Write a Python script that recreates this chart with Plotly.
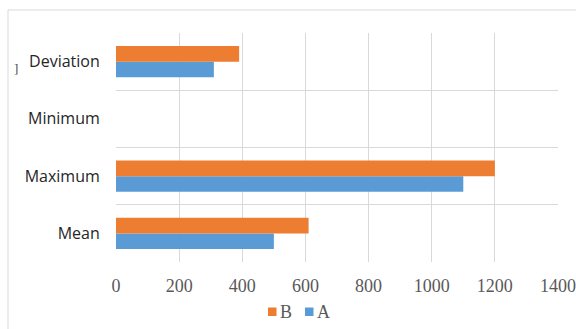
import plotly.graph_objects as go

# Summary statistics for the two series
categories = ["Mean", "Maximum", "Minimum", "Deviation"]
series_a = [500, 1100, 0, 310]
series_b = [610, 1200, 0, 390]
x_ticks = [0, 200, 400, 600, 800, 1000, 1200, 1400]

COLOR_A = "#5B9BD5"
COLOR_B = "#ED7D31"

W, H = 576, 329
L, R, T, B = 116, 558, 33, 262  # plot area in pixels


def px(x):
    return (x - L) / (R - L)


def py(y):
    return (B - y) / (B - T)


pos = list(range(len(categories)))

fig = go.Figure()
fig.add_trace(go.Bar(name="A", y=pos, x=series_a, orientation="h",
                     marker=dict(color=COLOR_A, line=dict(width=0))))
fig.add_trace(go.Bar(name="B", y=pos, x=series_b, orientation="h",
                     marker=dict(color=COLOR_B, line=dict(width=0))))

grid = "#d9d9d9"
fig.update_layout(
    width=W, height=H,
    margin=dict(l=L, r=W - R, t=T, b=H - B, pad=0, autoexpand=False),
    paper_bgcolor="white", plot_bgcolor="white",
    barmode="group", bargap=0.45, bargroupgap=0,
    showlegend=False,
    xaxis=dict(range=[0, 1400], tickvals=x_ticks, automargin=False,
               ticktext=[str(v) for v in x_ticks],
               showgrid=False, zeroline=False, showline=False,
               ticks="outside", ticklen=7, tickcolor="rgba(0,0,0,0)",
               tickfont=dict(family="Liberation Serif", size=18, color="#595959"),
               minor=dict(tickmode="array", tickvals=x_ticks[:-1],
                          showgrid=True, gridcolor=grid, gridwidth=1, ticks="")),
    yaxis=dict(range=[-0.5, len(categories) - 0.5], tickvals=pos,
               ticktext=categories, showgrid=False, zeroline=False,
               showline=False, ticks="outside", ticklen=12, automargin=False,
               tickcolor="rgba(0,0,0,0)",
               tickfont=dict(family="Open Sans", size=16, color="#262626"),
               minor=dict(tickmode="array",
                          tickvals=[p + 0.5 for p in pos[:-1]],
                          showgrid=True, gridcolor=grid, gridwidth=1, ticks="")),
)

# Outer frame lines (top and left)
fig.add_shape(type="line", xref="paper", yref="paper",
              x0=px(8), x1=px(576), y0=py(10), y1=py(10),
              line=dict(color=grid, width=1))
fig.add_shape(type="line", xref="paper", yref="paper",
              x0=px(8), x1=px(8), y0=py(10), y1=py(329),
              line=dict(color=grid, width=1))

fig.add_annotation(text="]", xref="paper", yref="paper",
                   x=px(12), y=py(59), showarrow=False,
                   font=dict(family="Liberation Serif", size=13, color="#404040"))

# Compact legend: B then A
legend_items = [("B", COLOR_B, 268), ("A", COLOR_A, 305)]
for label, color, x0 in legend_items:
    fig.add_shape(type="rect", xref="paper", yref="paper",
                  x0=px(x0), x1=px(x0 + 8.5), y0=py(307.5), y1=py(316),
                  fillcolor=color, line=dict(width=0))
    fig.add_annotation(text=label, xref="paper", yref="paper",
                       x=px(x0 + 10), y=py(312), xanchor="left",
                       yanchor="middle", showarrow=False,
                       font=dict(family="Liberation Serif", size=18,
                                 color="#595959"))

fig.write_html("out.html")
